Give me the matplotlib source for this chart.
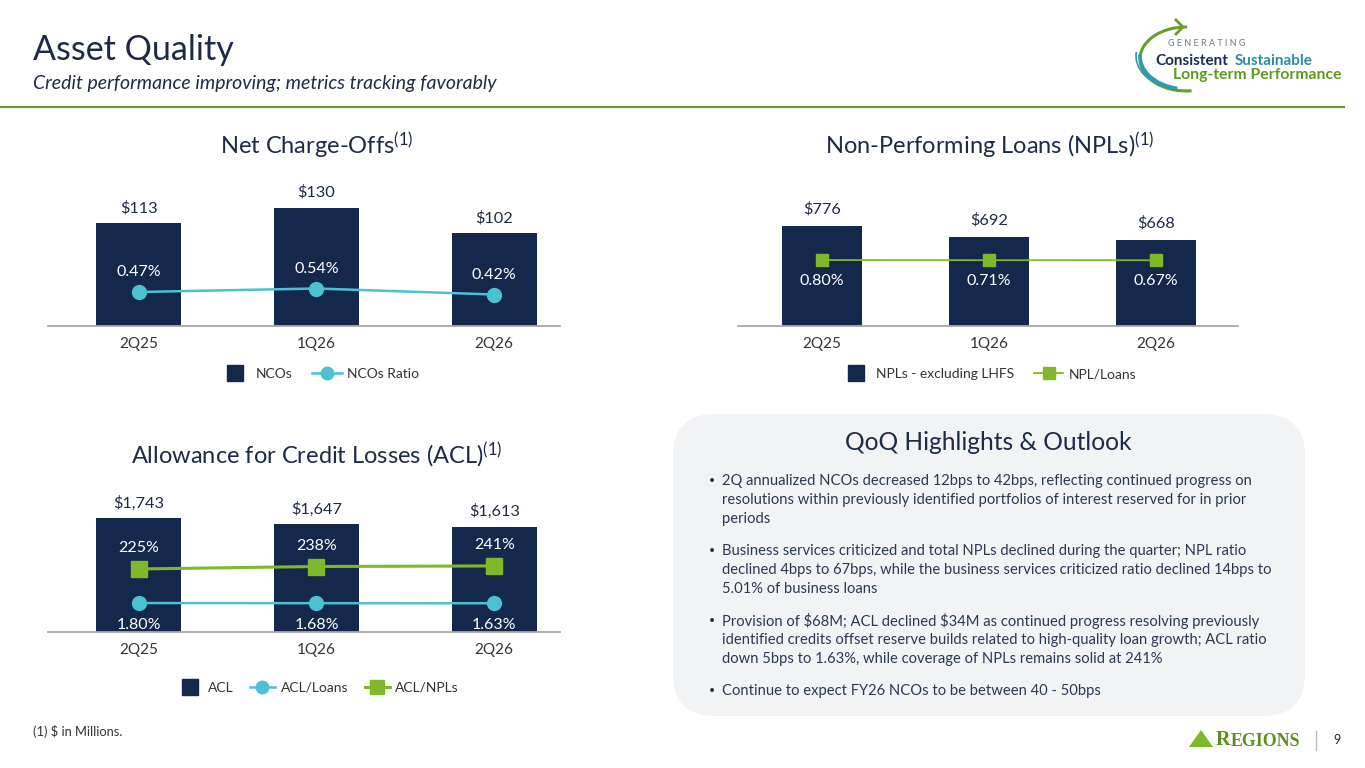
import matplotlib
matplotlib.use('Agg')
import matplotlib.pyplot as plt
from matplotlib.patches import FancyBboxPatch, Arc, Polygon
from matplotlib.lines import Line2D
import numpy as np

# ---------------- data ----------------
quarters = ['2Q25', '1Q26', '2Q26']
nco = [113, 130, 102]
nco_ratio = [0.47, 0.54, 0.42]
npl = [776, 692, 668]
npl_ratio = [0.80, 0.71, 0.67]
acl = [1743, 1647, 1613]
acl_loans = [1.80, 1.68, 1.63]
acl_npls = [225, 238, 241]

title = 'Asset Quality'
subtitle = 'Credit performance improving; metrics tracking favorably'
highlights_title = 'QoQ Highlights & Outlook'
bullets = [
    ['2Q annualized NCOs decreased 12bps to 42bps, reflecting continued progress on',
     'resolutions within previously identified portfolios of interest reserved for in prior',
     'periods'],
    ['Business services criticized and total NPLs declined during the quarter; NPL ratio',
     'declined 4bps to 67bps, while the business services criticized ratio declined 14bps to',
     '5.01% of business loans'],
    ['Provision of $68M; ACL declined $34M as continued progress resolving previously',
     'identified credits offset reserve builds related to high-quality loan growth; ACL ratio',
     'down 5bps to 1.63%, while coverage of NPLs remains solid at 241%'],
    ['Continue to expect FY26 NCOs to be between 40 - 50bps'],
]

# ---------------- style ----------------
W, H = 1365, 768
plt.rcParams['font.family'] = ['Lato', 'DejaVu Sans']
plt.rcParams['mathtext.fontset'] = 'custom'
plt.rcParams['mathtext.rm'] = 'Lato'
plt.rcParams['mathtext.it'] = 'Lato:italic'
plt.rcParams['mathtext.bf'] = 'Lato:bold'

NAVY = '#14284B'
TEAL = '#4BC2D2'
GREEN = '#7DB928'
TXT = '#1E2B45'
DARK = '#333333'
GRAY = '#A8A8A8'
PX = 0.72  # points per pixel at dpi 100

fig = plt.figure(figsize=(W / 100, H / 100), dpi=100)
bg = fig.add_axes([0, 0, 1, 1], zorder=0)
bg.set_xlim(0, W)
bg.set_ylim(H, 0)
bg.axis('off')


def px_axes(x0, y0, x1, y1, z=2):
    ax = fig.add_axes([x0 / W, 1 - y1 / H, (x1 - x0) / W, (y1 - y0) / H], zorder=z)
    ax.patch.set_alpha(0)
    return ax


def hide(ax):
    for s in ax.spines.values():
        s.set_visible(False)
    ax.set_yticks([])


def bar_chart(box, xlim, ymax, vals, width, labfmt, lab_dy):
    ax = px_axes(*box)
    x = np.arange(len(quarters))
    ax.bar(x, vals, width=width, color=NAVY, zorder=2)
    ax.set_xlim(*xlim)
    ax.set_ylim(0, ymax)
    for s in ['top', 'right', 'left']:
        ax.spines[s].set_visible(False)
    ax.spines['bottom'].set_color(GRAY)
    ax.spines['bottom'].set_linewidth(1.3)
    ax.set_yticks([])
    ax.set_xticks(x)
    ax.set_xticklabels(quarters, fontsize=11, color=DARK)
    ax.tick_params(axis='x', length=0, pad=8)
    for xi, v in zip(x, vals):
        ax.annotate(labfmt(v), (xi, v), xytext=(0, lab_dy * PX), textcoords='offset points',
                    ha='center', va='center', fontsize=11.8, color=TXT)
    return ax


def line_on(ax, vals, ylim, color, marker, ms, lw, labfmt, lab_dy):
    a2 = ax.twinx()
    hide(a2)
    a2.patch.set_alpha(0)
    a2.set_ylim(*ylim)
    x = np.arange(len(vals))
    a2.plot(x, vals, color=color, lw=lw, marker=marker, markersize=ms, zorder=3)
    for xi, v in zip(x, vals):
        a2.annotate(labfmt(v), (xi, v), xytext=(0, lab_dy * PX), textcoords='offset points',
                    ha='center', va='center', fontsize=11.5, color='white')
    return a2


def legend(handles, labels, cx, cy, colsp, hl=2.1):
    fig.legend(handles=handles, labels=labels, loc='center',
               bbox_to_anchor=(cx / W, 1 - cy / H), ncol=len(labels), frameon=False,
               fontsize=10, labelcolor=DARK, handlelength=hl, columnspacing=colsp,
               handletextpad=0.4)


SQ = Line2D([], [], marker='s', color=NAVY, ls='none', markersize=11)

# ---------------- header ----------------
bg.text(33, 50, title, fontsize=24.5, color=TXT, va='center', ha='left')
bg.text(33, 84, subtitle, fontsize=14, color=TXT, va='center', ha='left', style='italic')
bg.plot([0, 1345], [107, 107], color='#6E9632', lw=1.6, solid_capstyle='butt')

# logo (top right)
bg.add_patch(Arc((1186, 59), 92, 64, theta1=80, theta2=272, color='#6A9E2A', lw=2.2))
bg.plot([1176, 1183, 1176], [20, 27, 34], color='#6A9E2A', lw=2.0)
bg.add_patch(Arc((1182, 56), 92, 66, theta1=110, theta2=185, color='#2E9AAE', lw=1.2))
bg.add_patch(Arc((1186, 56), 92, 66, theta1=105, theta2=182, color='#2E9AAE', lw=2.6))
bg.text(1168, 44, 'G E N E R A T I N G', fontsize=6.5, color='#6F7A80', va='center', ha='left')
bg.text(1155, 61, 'Consistent', fontsize=11, fontweight='bold', color='#1B2E55', va='center', ha='left')
bg.text(1235, 61, 'Sustainable', fontsize=11, fontweight='bold', color='#2A8FA6', va='center', ha='left')
bg.text(1173, 75, 'Long-term Performance', fontsize=11.3, fontweight='bold', color='#5E9A1E',
        va='center', ha='left')

# ---------------- chart 1: NCOs ----------------
ax1 = bar_chart((48, 186, 560, 326), (-0.51, 2.37), 153.8, nco, 0.48, lambda v: f'${v:,}', 15)
line_on(ax1, nco_ratio, (-0.21, 2.59), TEAL, 'o', 10, 1.8, lambda v: f'{v:.2f}%', 20)
bg.text(317, 146, r'Net Charge-Offs$^{(1)}$', fontsize=17, color=TXT, ha='center', va='center')
legend([SQ, Line2D([], [], color=TEAL, lw=1.8, marker='o', markersize=9)],
       ['NCOs', 'NCOs Ratio'], 320, 374, 1.45)

# ---------------- chart 2: NPLs ----------------
ax2 = bar_chart((738, 186, 1238, 326), (-0.503, 2.49), 1088, npl, 0.48, lambda v: f'${v:,}', 17)
line_on(ax2, npl_ratio, (-46.3, 53.7), GREEN, 's', 8.5, 1.3, lambda v: f'{v:.2f}%', -21)
bg.text(990, 146, r'Non-Performing Loans (NPLs)$^{(1)}$', fontsize=17, color=TXT,
        ha='center', va='center')
legend([SQ, Line2D([], [], color=GREEN, lw=1.3, marker='s', markersize=8.5)],
       ['NPLs - excluding LHFS', 'NPL/Loans'], 989, 374, 1.45)

# ---------------- chart 3: ACL ----------------
ax3 = bar_chart((48, 492, 560, 632), (-0.51, 2.37), 2141, acl, 0.48, lambda v: f'${v:,}', 15)
line_on(ax3, acl_npls, (-106.6, 630), GREEN, 's', 11, 2.2, lambda v: f'{v:.0f}%', 21)
line_on(ax3, acl_loans, (-18.9, 81.1), TEAL, 'o', 10, 1.8, lambda v: f'{v:.2f}%', -22)
bg.text(317, 455, r'Allowance for Credit Losses (ACL)$^{(1)}$', fontsize=17, color=TXT,
        ha='center', va='center')
legend([SQ, Line2D([], [], color=TEAL, lw=1.8, marker='o', markersize=9),
        Line2D([], [], color=GREEN, lw=2.2, marker='s', markersize=10)],
       ['ACL', 'ACL/Loans', 'ACL/NPLs'], 318, 688, 1.2, hl=1.8)

# ---------------- highlights box ----------------
bg.add_patch(FancyBboxPatch((673 + 42, 414 + 42), 632 - 84, 302 - 84,
                            boxstyle='round,pad=42', fc='#F2F3F5', ec='none', zorder=0))
bg.text(988, 443, highlights_title, fontsize=17.7, color=TXT, ha='center', va='center')
starts = [481, 551, 621, 691]
for y0, lines in zip(starts, bullets):
    bg.text(712, y0, '\u2022', fontsize=7.5, color=TXT, ha='center', va='center')
    for i, ln in enumerate(lines):
        bg.text(722, y0 + 19 * i, ln, fontsize=10.6, color='#2B3850', ha='left', va='center',
                parse_math=False)

# ---------------- footer ----------------
bg.text(33, 731, '(1) $ in Millions.', fontsize=9.3, color=DARK, ha='left', va='center',
        parse_math=False)
bg.add_patch(Polygon([(1189, 747), (1201, 730), (1213, 747)], closed=True, fc='#7DB928', ec='none'))
bg.text(1216, 740, 'R', fontsize=14.5, color='#5E8E1E', ha='left', va='center',
        family='Liberation Serif', fontweight='bold')
bg.text(1231, 741, 'EGIONS', fontsize=12.9, color='#5E8E1E', ha='left', va='center',
        family='Liberation Serif', fontweight='bold')
bg.plot([1316, 1316], [731, 750], color='#BBBBBB', lw=1)
bg.text(1337, 740, '9', fontsize=9, color=TXT, ha='center', va='center')

fig.savefig('out.png', dpi=100, facecolor='white')
